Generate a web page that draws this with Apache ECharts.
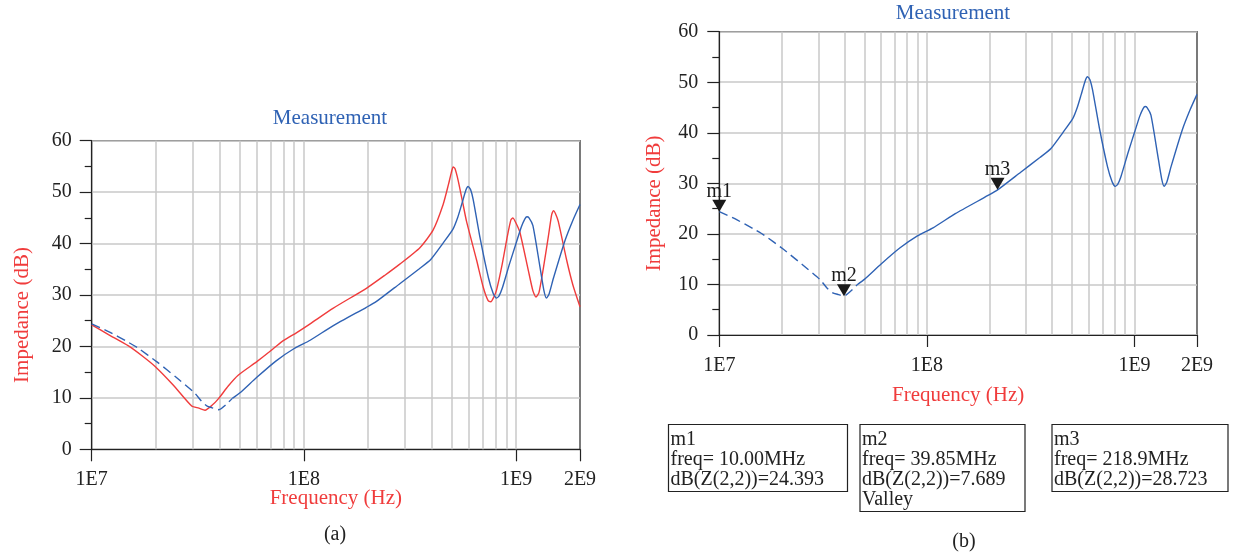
<!DOCTYPE html>
<html><head><meta charset="utf-8">
<script src="https://cdn.jsdelivr.net/npm/echarts@6/dist/echarts.min.js"></script>
<style>html,body{margin:0;padding:0;background:#fff}#c{width:1233px;height:556px}</style>
</head><body><div id="c"></div>
<script>
// ---------------- data ----------------
const titleText = 'Measurement';
const xAxisName = 'Frequency (Hz)';
const yAxisName = 'Impedance (dB)';
const panelLabels = ['(a)', '(b)'];
const xMin = 1e7, xMax = 2e9;
const yMin = 0, yMax = 60, yStep = 10;

// red curve (panel a)
const redFreq = [1.0e7,1.2e7,1.49e7,1.75e7,1.99e7,2.42e7,2.96e7,3.2e7,3.42e7,3.7e7,3.95e7,4.4e7,4.9e7,5.98e7,7.0e7,7.85e7,9.25e7,
  1.07e8,1.37e8,1.97e8,2.4e8,2.83e8,3.52e8,4.06e8,4.53e8,4.8e8,4.95e8,5.05e8,5.15e8,5.33e8,5.6e8,5.84e8,6.51e8,7.0e8,7.38e8,7.6e8,7.85e8,8.09e8,8.6e8,9.1e8,9.45e8,9.65e8,9.9e8,
  1.04e9,1.14e9,1.2e9,1.24e9,1.28e9,1.34e9,1.42e9,1.47e9,1.5e9,1.53e9,1.58e9,1.73e9,1.85e9,2.0e9];
const redDb = [24.2,22.3,20.1,18.0,16.1,12.5,8.4,8.0,7.6,8.6,9.8,12.3,14.4,17.0,19.2,20.9,22.7,
  24.4,27.4,31.3,33.8,36.0,39.2,42.6,47.6,51.5,53.8,54.9,54.6,52.3,48.0,44.3,36.8,31.5,28.9,28.7,29.6,31.0,36.0,41.5,44.6,45.0,44.3,
  42.3,34.9,30.8,29.6,30.4,34.9,41.5,45.6,46.4,45.9,44.3,36.8,32.0,27.7];

// blue measured curve (panels a and b)
const blueFreq = [1.0e7,1.2e7,1.46e7,1.65e7,2.03e7,2.5e7,3.05e7,3.3e7,3.5e7,3.75e7,3.98e7,4.3e7,4.6e7,5.0e7,6.0e7,7.4e7,9.0e7,
  1.07e8,1.37e8,1.97e8,2.19e8,2.83e8,3.5e8,3.96e8,4.51e8,5.04e8,5.3e8,5.53e8,5.8e8,5.94e8,6.1e8,6.28e8,6.77e8,7.41e8,7.8e8,8.07e8,8.3e8,8.6e8,9.3e8,9.97e8,
  1.06e9,1.1e9,1.125e9,1.15e9,1.2e9,1.29e9,1.35e9,1.39e9,1.43e9,1.5e9,1.7e9,1.85e9,2.0e9];
const blueDb = [24.4,22.9,21.0,19.7,17.0,14.0,11.0,9.3,8.4,8.0,7.7,8.7,9.9,11.0,14.0,17.2,19.6,
  21.2,24.0,27.6,28.7,32.2,35.1,36.9,40.0,42.8,45.0,47.5,50.4,51.1,50.5,48.5,41.0,33.3,30.3,29.4,29.8,31.3,36.0,39.9,
  43.3,44.8,45.2,45.0,43.5,35.9,31.0,29.4,30.2,33.3,40.6,44.5,47.6];
const blueDashedUntil = 4.6e7; // measured trace drawn dashed below this frequency

// markers (panel b)
const markerNames = ['m1', 'm2', 'm3'];
const markerFreq = [10.00e6, 39.85e6, 218.9e6];
const markerFreqText = ['10.00MHz', '39.85MHz', '218.9MHz'];
const markerDb = [24.393, 7.689, 28.723];
const markerNote = ['', 'Valley', ''];
const markerExpr = 'dB(Z(2,2))';

// ---------------- chart ----------------
const SERIF = '"Liberation Serif", "DejaVu Serif", serif';
const INK = '#222';
const RED = '#f03c3c';
const BLUE = '#2f62b4';
const GRID_GRAY = '#c8c8c8';

function pairs(fx, fy) { return fx.map((f, i) => [f, fy[i]]); }
const bluePairs = pairs(blueFreq, blueDb);
const blueDashed = bluePairs.filter(p => p[0] <= blueDashedUntil);
const blueSolid = bluePairs.filter(p => p[0] >= blueDashedUntil);

function fmtE(v) {
  const e = Math.floor(Math.log10(v) + 1e-6);
  const m = Math.round(v / Math.pow(10, e));
  return m + 'E' + e;
}
// vertical grid lines at 2..9 x decade
const gridFreqs = [];
for (let d = xMin; d < xMax; d *= 10) {
  for (let m = 2; m <= 10; m++) { const v = m * d; if (v < xMax * 0.999) gridFreqs.push(v); }
}
function gridMarkLine() {
  return {
    silent: true, symbol: ['none', 'none'], z: 1, animation: false,
    label: { show: false }, emphasis: { disabled: true },
    lineStyle: { color: GRID_GRAY, width: 1.5, type: 'solid' },
    data: gridFreqs.map(v => ({ xAxis: v }))
  };
}
function xAxisOf(gi, nameGap, labelMargin) {
  return {
    type: 'log', logBase: 10, gridIndex: gi, min: xMin, max: xMax,
    axisLine: { show: true, lineStyle: { color: INK, width: 1.2 } },
    axisTick: { show: true, length: 12, inside: false, lineStyle: { color: INK, width: 1.2 } },
    minorTick: { show: false }, splitLine: { show: false },
    axisLabel: { color: INK, fontFamily: SERIF, fontSize: 20, margin: labelMargin, formatter: fmtE, showMinLabel: true, showMaxLabel: true, hideOverlap: false },
    name: xAxisName, nameLocation: 'middle', nameGap: nameGap, nameMoveOverlap: false,
    nameTextStyle: { color: RED, fontFamily: SERIF, fontSize: 21 }
  };
}
function yAxisOf(gi, nameGap, labelMargin) {
  return {
    type: 'value', gridIndex: gi, min: yMin, max: yMax, interval: yStep,
    axisLine: { show: true, lineStyle: { color: INK, width: 1.2 } },
    axisTick: { show: true, length: 12, lineStyle: { color: INK, width: 1.2 } },
    minorTick: { show: true, splitNumber: 2, length: 7, lineStyle: { color: INK, width: 1.2 } },
    splitLine: { show: true, lineStyle: { color: GRID_GRAY, width: 1.5 } },
    axisLabel: { color: INK, fontFamily: SERIF, fontSize: 20, margin: labelMargin },
    name: yAxisName, nameLocation: 'middle', nameGap: nameGap, nameMoveOverlap: false,
    nameTextStyle: { color: RED, fontFamily: SERIF, fontSize: 21, padding: [0, 40, 0, 0] }
  };
}
function lineSeries(gi, data, color, dashed) {
  return {
    type: 'line', xAxisIndex: gi, yAxisIndex: gi, data: data, symbol: 'none', showSymbol: false,
    smooth: 0.2, z: 3, animation: false, silent: true,
    lineStyle: { color: color, width: 1.4, type: dashed ? [9, 5] : 'solid' }
  };
}

const grids = [
  { left: 91.7, top: 140.7, width: 488.3, height: 308.6 },
  { left: 719.3, top: 31.7, width: 477.7, height: 303.3 }
];

const series = [];
const redS = lineSeries(0, pairs(redFreq, redDb), RED, false);
redS.markLine = gridMarkLine();
series.push(redS);
series.push(lineSeries(0, blueDashed, BLUE, true));
series.push(lineSeries(0, blueSolid, BLUE, false));
series.push(lineSeries(1, blueDashed, BLUE, true));
const bS = lineSeries(1, blueSolid, BLUE, false);
bS.markLine = gridMarkLine();
series.push(bS);
series.push({
  type: 'scatter', xAxisIndex: 1, yAxisIndex: 1, z: 5, animation: false, silent: true,
  data: markerNames.map((n, i) => ({ name: n, value: [markerFreq[i], markerDb[i]] })),
  symbol: 'triangle', symbolRotate: 180, symbolSize: [14, 12], symbolOffset: [0, -6],
  itemStyle: { color: '#1a1a1a', opacity: 1 },
  label: { show: true, position: 'top', distance: -2, formatter: '{b}', color: '#1a1a1a', opacity: 1, fontFamily: SERIF, fontSize: 20 }
});

// marker readout boxes
const boxLayout = [
  { x: 668.5, y: 424.5, w: 179 },
  { x: 860, y: 424.5, w: 165 },
  { x: 1052, y: 424.5, w: 176 }
];
const LH = 20;
const graphics = [];
markerNames.forEach((n, i) => {
  const lines = [n, 'freq= ' + markerFreqText[i], markerExpr + '=' + markerDb[i].toFixed(3)];
  if (markerNote[i]) lines.push(markerNote[i]);
  const b = boxLayout[i];
  graphics.push({ type: 'rect', shape: { x: b.x, y: b.y, width: b.w, height: lines.length * LH + 7 },
    style: { fill: 'none', stroke: INK, lineWidth: 1.2 }, silent: true });
  graphics.push({ type: 'text', x: b.x + 2, y: b.y + 5,
    style: { text: lines.join('\n'), fill: INK, fontFamily: SERIF, fontSize: 20, lineHeight: LH, align: 'left', verticalAlign: 'top' }, silent: true });
});
graphics.push({ type: 'text', x: 335, y: 535, style: { text: panelLabels[0], fill: INK, fontFamily: SERIF, fontSize: 20, align: 'center', verticalAlign: 'middle' } });
graphics.push({ type: 'text', x: 964, y: 542, style: { text: panelLabels[1], fill: INK, fontFamily: SERIF, fontSize: 20, align: 'center', verticalAlign: 'middle' } });

const chart = echarts.init(document.getElementById('c'), null, { renderer: 'canvas' });
chart.setOption({
  backgroundColor: '#fff',
  animation: false,
  title: [
    { text: titleText, left: 330, top: 108, textAlign: 'center', padding: 0, textStyle: { color: BLUE, fontFamily: SERIF, fontSize: 21, fontWeight: 'normal' } },
    { text: titleText, left: 953, top: 3, textAlign: 'center', padding: 0, textStyle: { color: BLUE, fontFamily: SERIF, fontSize: 21, fontWeight: 'normal' } }
  ],
  grid: grids.map(g => Object.assign({ show: true, borderColor: INK, borderWidth: 1.2, backgroundColor: 'transparent', containLabel: false }, g)),
  xAxis: [xAxisOf(0, 39, 20), xAxisOf(1, 50, 21)],
  yAxis: [yAxisOf(0, 59, 20), yAxisOf(1, 54, 21)],
  series: series,
  graphic: graphics
});
</script></body></html>
